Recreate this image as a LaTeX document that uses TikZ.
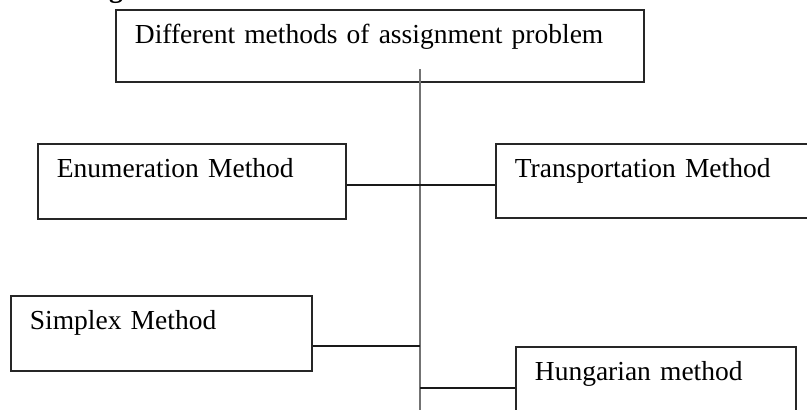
\documentclass[tikz,border=0pt]{standalone}
\usepackage{fontspec}
\setmainfont{Liberation Serif}
\begin{document}
\begin{tikzpicture}[x=1pt,y=-1pt,
  box/.style={draw=black!85,line width=1.8pt,anchor=north west,inner xsep=19pt,inner ysep=0pt,
    font=\fontsize{27.5}{30}\selectfont,align=left,text height=34pt},
  conn/.style={draw=black!90,line width=1.6pt},
  trunk/.style={draw=black!55,line width=2.4pt}]
\useasboundingbox (0,0) rectangle (807,410);
\node[anchor=base west,inner sep=0pt,font=\bfseries\fontsize{27.5}{30}\selectfont] (frag) at (109,-3) {g};
\node[box,text width=490pt,text depth=38pt] (top) at (115,9) {Different methods of assignment problem};
\node[box,text width=270pt,text depth=41pt] (enum) at (37,143) {Enumeration Method};
\node[box,text width=297pt,text depth=40pt] (trans) at (495,143) {Transportation Method};
\node[box,text width=263pt,text depth=41pt] (simp) at (10,295) {Simplex Method};
\node[box,text width=242pt,text depth=41pt] (hung) at (515,346) {Hungarian method};
\coordinate (vtop) at (420,69);
\coordinate (vbot) at (420,415);
\coordinate (c1) at (420,185);
\coordinate (c2) at (420,346);
\coordinate (c3) at (420,388);
\draw[trunk] (vtop) -- (vbot);
\draw[conn] (enum.east |- c1) -- (trans.west |- c1);
\draw[conn] (simp.east |- c2) -- (c2);
\draw[conn] (c3) -- (hung.west |- c3);
\end{tikzpicture}
\end{document}
